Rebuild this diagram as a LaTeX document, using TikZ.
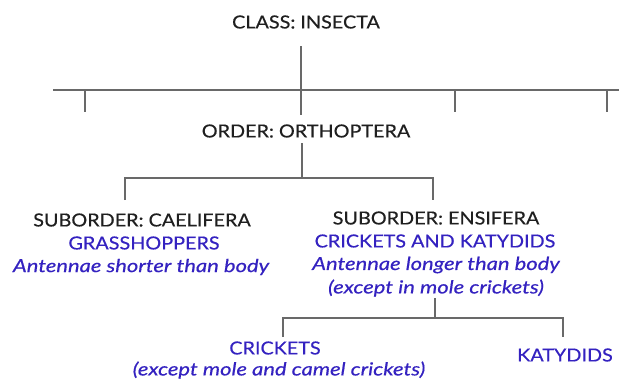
\documentclass[tikz,border=0pt]{standalone}
\usepackage{fontspec}
\setmainfont{Lato}
\newfontfamily\upf{Lato}[FakeStretch=1.1, FakeBold=0.4]
\newfontfamily\itf{Lato}[FakeStretch=1.22, FakeBold=0.5]
\definecolor{taxblue}{RGB}{52,34,192}
\definecolor{linegray}{RGB}{105,105,105}
\tikzset{
  tx/.style={inner sep=0pt, anchor=center, text=black!88, font=\upf\fontsize{18}{21}\selectfont},
  bl/.style={tx, text=taxblue},
  bli/.style={tx, text=taxblue, font=\itf\itshape\fontsize{18}{21}\selectfont},
  ln/.style={draw=linegray, line width=1.7pt}
}
\begin{document}
\begin{tikzpicture}[x=1pt,y=-1pt]
\useasboundingbox (0,0) rectangle (619,378);
\node[tx] (class) at (306,22) {CLASS: INSECTA};
\coordinate (c1) at (301,46);
\coordinate (c2) at (301,115);
\coordinate (hL) at (53,90);
\coordinate (hR) at (619,90);
\coordinate (t1a) at (85,90);  \coordinate (t1b) at (85,112);
\coordinate (t2a) at (455,90); \coordinate (t2b) at (455,112);
\coordinate (t3a) at (607,90); \coordinate (t3b) at (607,112);
\draw[ln] (c1) -- (c2);
\draw[ln] (hL) -- (hR);
\draw[ln] (t1a) -- (t1b);
\draw[ln] (t2a) -- (t2b);
\draw[ln] (t3a) -- (t3b);
\node[tx] (order) at (306,131) {ORDER: ORTHOPTERA};
\coordinate (o1) at (302,143);
\coordinate (o2) at (302,178);
\coordinate (oL) at (125,178);
\coordinate (oR) at (433,178);
\coordinate (oLb) at (125,200);
\coordinate (oRb) at (433,200);
\draw[ln] (o1) -- (o2);
\draw[ln] (oLb) -- (oL) -- (oR) -- (oRb);
\node[tx] (cael) at (142,220) {SUBORDER: CAELIFERA};
\node[bl] (grass) at (144,243) {GRASSHOPPERS};
\node[bli] (grassd) at (141,267) {Antennae shorter than body};
\node[tx] (ensi) at (436,218) {SUBORDER: ENSIFERA};
\node[bl] (ck) at (435,241) {CRICKETS AND KATYDIDS};
\node[bli] (ckd) at (436,265) {Antennae longer than body};
\node[bli] (ckd2) at (436,288) {(except in mole crickets)};
\coordinate (e1) at (435,298);
\coordinate (e2) at (435,318);
\coordinate (eL) at (283,318);
\coordinate (eR) at (563,318);
\coordinate (eLb) at (283,337);
\coordinate (eRb) at (563,337);
\draw[ln] (e1) -- (e2);
\draw[ln] (eLb) -- (eL) -- (eR) -- (eRb);
\node[bl] (crk) at (275,348) {CRICKETS};
\node[bli] (crkd) at (279,370) {(except mole and camel crickets)};
\node[bl] (kat) at (565,355) {KATYDIDS};
\end{tikzpicture}
\end{document}
